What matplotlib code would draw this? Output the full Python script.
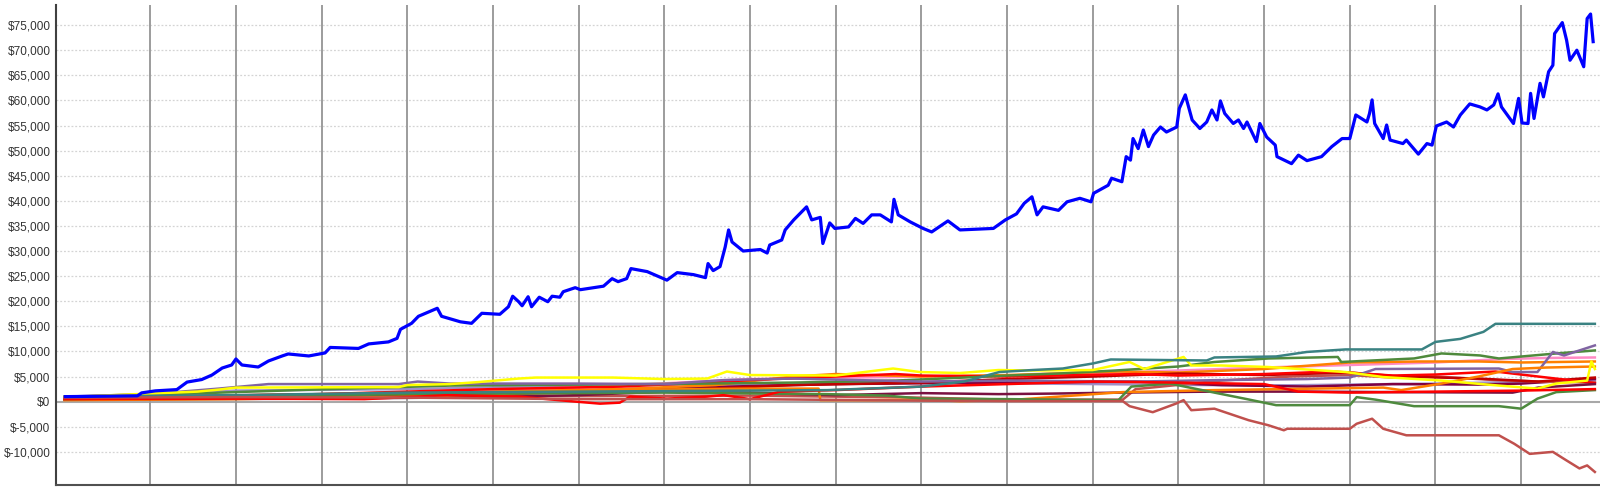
import matplotlib
matplotlib.use("Agg")
import matplotlib.pyplot as plt
from matplotlib.ticker import FuncFormatter, FixedLocator

# ---------------- data (x = decimal year, y = thousands of dollars) ----------------
blue_x = [2006.01, 2006.85, 2006.90, 2007.06, 2007.31, 2007.43, 2007.60, 2007.72, 2007.84, 2007.95,
          2008.00, 2008.07, 2008.26, 2008.38, 2008.54, 2008.61, 2008.85, 2009.04, 2009.10, 2009.43,
          2009.55, 2009.78, 2009.88, 2009.92, 2010.05, 2010.13, 2010.35, 2010.40, 2010.56, 2010.62,
          2010.75, 2010.87, 2011.08, 2011.18, 2011.23, 2011.30, 2011.34, 2011.41, 2011.45, 2011.54,
          2011.64, 2011.69, 2011.78, 2011.82, 2011.96, 2012.02, 2012.29, 2012.39, 2012.46, 2012.56,
          2012.61, 2012.80, 2013.03, 2013.15, 2013.34, 2013.48, 2013.51, 2013.57, 2013.65, 2013.71,
          2013.75, 2013.79, 2013.92, 2014.12, 2014.20, 2014.23, 2014.37, 2014.41, 2014.51, 2014.66,
          2014.72, 2014.82, 2014.85, 2014.93, 2014.99, 2015.15, 2015.23, 2015.32, 2015.42, 2015.52,
          2015.65, 2015.68, 2015.73, 2015.87, 2016.02, 2016.12, 2016.31, 2016.45, 2016.84, 2016.98,
          2017.11, 2017.20, 2017.29, 2017.35, 2017.42, 2017.60, 2017.70, 2017.85, 2017.98, 2018.01,
          2018.18, 2018.22, 2018.34, 2018.39, 2018.44, 2018.47, 2018.53, 2018.59, 2018.65, 2018.71,
          2018.79, 2018.86, 2018.98, 2019.01, 2019.08, 2019.16, 2019.25, 2019.33, 2019.39, 2019.45,
          2019.49, 2019.54, 2019.64, 2019.70, 2019.76, 2019.80, 2019.91, 2019.95, 2020.03, 2020.13,
          2020.15, 2020.32, 2020.40, 2020.50, 2020.67, 2020.79, 2020.91, 2021.00, 2021.07, 2021.20,
          2021.23, 2021.26, 2021.29, 2021.39, 2021.43, 2021.47, 2021.62, 2021.66, 2021.80, 2021.90,
          2021.96, 2022.01, 2022.13, 2022.21, 2022.29, 2022.40, 2022.52, 2022.60, 2022.68, 2022.73,
          2022.77, 2022.91, 2022.97, 2023.01, 2023.08, 2023.11, 2023.15, 2023.22, 2023.26, 2023.32,
          2023.37, 2023.39, 2023.48, 2023.53, 2023.57, 2023.65, 2023.73, 2023.77, 2023.81, 2023.84]
blue_y = [1.0, 1.16, 1.75, 2.15, 2.4, 3.9, 4.4, 5.3, 6.7, 7.3,
          8.5, 7.3, 6.9, 8.1, 9.1, 9.5, 9.1, 9.7, 10.8, 10.6,
          11.5, 11.9, 12.6, 14.4, 15.6, 17.0, 18.6, 17.0, 16.2, 15.9,
          15.6, 17.6, 17.4, 18.9, 21.0, 19.9, 19.1, 20.9, 18.9, 20.8,
          19.9, 21.0, 20.8, 21.9, 22.7, 22.3, 23.0, 24.5, 23.9, 24.5,
          26.5, 25.9, 24.2, 25.7, 25.3, 24.7, 27.5, 26.1, 26.9, 30.8,
          34.2, 31.8, 30.0, 30.3, 29.6, 31.2, 32.2, 34.2, 36.2, 38.8,
          36.2, 36.7, 31.5, 35.6, 34.5, 34.8, 36.5, 35.5, 37.2, 37.2,
          35.8, 40.3, 37.2, 35.8, 34.5, 33.8, 36.0, 34.2, 34.5, 36.2,
          37.4, 39.5, 40.8, 37.2, 38.8, 38.1, 39.8, 40.5, 39.8, 41.5,
          43.1, 44.5, 43.8, 48.8, 48.1, 52.4, 50.4, 54.1, 50.8, 53.1,
          54.7, 53.7, 54.7, 58.4, 61.1, 56.1, 54.4, 55.7, 58.1, 56.1,
          59.9, 57.4, 55.4, 56.1, 54.4, 55.7, 51.8, 55.4, 52.7, 51.1,
          48.8, 47.4, 49.1, 48.0, 48.8, 50.8, 52.4, 52.4, 57.1, 55.7,
          57.4, 60.1, 55.4, 52.4, 55.1, 52.1, 51.4, 52.1, 49.3, 51.4,
          51.1, 54.9, 55.7, 54.7, 57.1, 59.3, 58.7, 58.1, 59.1, 61.3,
          58.7, 55.4, 60.4, 55.5, 55.4, 61.4, 56.4, 63.4, 60.7, 65.7,
          67.0, 73.3, 75.5, 72.0, 68.0, 70.0, 66.7, 76.3, 77.2, 71.7]

teal_x = [2006.0, 2008.0, 2010.0, 2012.0, 2014.9, 2016.0, 2016.5, 2016.91, 2017.3, 2017.65, 2018.0,
          2018.21, 2019.33, 2019.42, 2020.14, 2020.5, 2020.95, 2021.84, 2022.0, 2022.29, 2022.56,
          2022.7, 2023.86]
teal_y = [1.0, 1.3, 1.8, 2.0, 2.3, 3.0, 4.0, 5.9, 6.3, 6.6, 7.6,
          8.4, 8.2, 8.8, 9.0, 9.9, 10.4, 10.4, 11.9, 12.5, 13.9,
          15.5, 15.5]

green1_x = [2006.0, 2008.9, 2009.9, 2010.5, 2012.0, 2013.5, 2014.5, 2015.7, 2016.5, 2017.0, 2017.6,
            2018.26, 2019.0, 2019.42, 2020.05, 2020.86, 2020.9, 2021.75, 2022.07, 2022.52, 2022.74,
            2023.41, 2023.86]
green1_y = [0.8, 2.4, 2.9, 3.2, 3.4, 3.6, 3.8, 4.2, 4.8, 5.2, 5.6,
            6.2, 7.0, 7.9, 8.6, 8.9, 7.9, 8.6, 9.6, 9.2, 8.6,
            9.6, 10.2]

green2_x = [2006.0, 2007.5, 2010.0, 2013.0, 2014.9, 2015.6, 2016.0, 2017.0, 2018.3, 2018.45, 2018.9,
            2019.42, 2019.8, 2020.14, 2021.0, 2021.08, 2021.3, 2021.75, 2022.74, 2023.0, 2023.19,
            2023.41, 2023.86]
green2_y = [0.5, 0.8, 1.5, 1.8, 1.5, 1.2, 0.6, 0.5, 0.3, 3.0, 3.6,
            1.8, 0.5, -0.7, -0.7, 0.9, 0.4, -0.9, -0.9, -1.4, 0.6,
            1.9, 2.3]

brown1_x = [2006.0, 2008.0, 2010.0, 2012.0, 2014.0, 2016.0, 2017.0, 2018.35, 2018.43, 2018.7, 2018.97,
            2019.06, 2019.15, 2019.42, 2019.82, 2020.05, 2020.23, 2020.27, 2021.0, 2021.08, 2021.26,
            2021.39, 2021.66, 2022.74, 2022.92, 2023.1, 2023.37, 2023.5, 2023.68, 2023.77, 2023.86]
brown1_y = [0.8, 0.9, 0.8, 0.5, 0.5, 0.2, 0.1, 0.1, -0.9, -2.1, -0.4,
            0.3, -1.7, -1.4, -3.7, -4.7, -5.7, -5.4, -5.4, -4.4, -3.4,
            -5.4, -6.7, -6.7, -8.4, -10.4, -10.0, -11.4, -13.3, -12.7, -14.0]

brown2_x = [2006.0, 2010.0, 2014.0, 2016.0, 2017.0, 2018.35, 2018.5, 2018.8, 2019.5, 2020.3, 2021.0,
            2021.5, 2022.0, 2022.7, 2023.2, 2023.86]
brown2_y = [0.6, 1.0, 1.2, 0.8, 0.4, 0.4, 2.5, 3.0, 4.2, 5.0, 5.3,
            4.8, 5.0, 4.3, 4.0, 3.8]

purple_x = [2006.0, 2007.0, 2007.8, 2008.38, 2009.9, 2010.12, 2010.5, 2012.0, 2013.0, 2013.7, 2014.5,
            2016.0, 2017.0, 2018.5, 2019.5, 2020.5, 2021.0, 2021.3, 2022.74, 2022.9, 2023.19,
            2023.37, 2023.5, 2023.86]
purple_y = [1.0, 1.5, 2.6, 3.5, 3.5, 4.0, 3.6, 3.6, 3.5, 4.3, 4.6,
            4.0, 4.2, 4.0, 4.3, 4.5, 4.8, 6.5, 6.6, 5.9, 5.9,
            9.9, 9.2, 11.2]

lavender_x = [2006.0, 2008.0, 2010.0, 2012.0, 2014.0, 2016.0, 2018.0, 2020.0, 2022.0, 2023.86]
lavender_y = [0.9, 2.2, 2.5, 3.2, 3.5, 3.8, 3.5, 3.2, 3.6, 4.2]

yellow_x = [2006.0, 2007.55, 2007.8, 2008.0, 2009.9, 2010.0, 2010.5, 2010.83, 2011.3, 2011.5, 2012.4,
            2013.0, 2013.5, 2013.73, 2014.0, 2015.0, 2015.67, 2015.98, 2016.45, 2016.9, 2017.3,
            2018.0, 2018.43, 2018.6, 2019.06, 2019.15, 2019.5, 2020.05, 2020.95, 2021.39, 2022.07,
            2022.74, 2023.19, 2023.41, 2023.77, 2023.82, 2023.86]
yellow_y = [0.9, 2.0, 2.4, 2.8, 2.9, 3.3, 3.5, 3.9, 4.6, 4.8, 4.8,
            4.5, 4.6, 6.0, 5.3, 5.2, 6.6, 5.9, 5.7, 6.3, 6.2,
            6.3, 7.9, 6.5, 8.9, 7.2, 7.2, 6.9, 5.9, 4.9, 4.2,
            3.2, 2.6, 3.6, 4.2, 8.0, 6.5]

red1_x = [2006.0, 2008.0, 2009.5, 2010.47, 2011.3, 2011.97, 2012.25, 2012.48, 2012.6, 2013.03, 2013.5,
          2013.69, 2014.0, 2014.35, 2015.0, 2016.0, 2017.0, 2018.0, 2019.0, 2020.0, 2020.4,
          2021.0, 2022.0, 2023.0, 2023.86]
red1_y = [0.5, 0.6, 0.5, 1.3, 1.0, 0.0, -0.4, -0.2, 1.0, 0.6, 1.0,
          1.3, 0.5, 2.0, 2.3, 3.0, 3.5, 4.0, 3.8, 3.5, 2.0,
          1.8, 2.0, 2.2, 2.5]

red2_x = [2006.0, 2009.0, 2011.0, 2012.5, 2013.7, 2014.0, 2015.7, 2016.0, 2017.0, 2018.5, 2019.0,
          2020.0, 2020.8, 2021.5, 2022.0, 2022.7, 2023.2, 2023.86]
red2_y = [0.8, 1.5, 2.5, 3.0, 4.0, 4.3, 5.5, 5.2, 5.0, 5.5, 5.2,
          5.5, 6.0, 5.2, 5.4, 6.0, 5.0, 3.7]

orange1_x = [2006.0, 2008.0, 2010.0, 2011.0, 2012.25, 2014.0, 2014.8, 2014.82, 2015.44, 2015.98, 2016.45,
             2017.03, 2017.6, 2018.35, 2019.42, 2021.39, 2021.6, 2022.07, 2022.5, 2022.9, 2023.3, 2023.86]
orange1_y = [0.3, 0.5, 1.0, 1.5, 2.3, 2.6, 2.6, 0.3, 0.3, 0.4, 0.1,
             0.3, 1.0, 1.9, 2.3, 2.8, 2.3, 3.6, 5.0, 6.5, 6.8, 7.0]

orange2_x = [2006.0, 2009.0, 2011.0, 2012.5, 2013.6, 2014.5, 2015.0, 2016.0, 2017.0, 2018.3, 2019.0,
             2020.0, 2021.0, 2021.8, 2022.5, 2023.0, 2023.86]
orange2_y = [0.7, 1.5, 2.0, 2.5, 3.3, 5.0, 5.5, 5.0, 5.3, 6.0, 5.8,
             6.5, 7.8, 8.0, 8.0, 7.8, 8.0]

pink_x = [2006.0, 2009.0, 2011.0, 2012.0, 2014.0, 2016.0, 2017.0, 2018.0, 2019.0, 2020.0, 2021.0,
          2022.0, 2022.8, 2023.3, 2023.86]
pink_y = [0.7, 1.5, 2.2, 2.8, 4.5, 5.0, 5.2, 5.6, 6.2, 6.8, 7.3,
          7.8, 8.5, 8.7, 8.8]

maroon1_x = [2006.0, 2009.0, 2011.0, 2012.0, 2013.0, 2014.0, 2015.0, 2016.0, 2016.9, 2017.5, 2018.3,
             2019.4, 2020.5, 2021.5, 2022.9, 2023.2, 2023.86]
maroon1_y = [0.4, 0.6, 0.9, 1.3, 2.0, 1.8, 1.3, 1.7, 1.5, 1.6, 1.8,
             2.0, 2.0, 1.9, 1.8, 2.8, 3.5]

maroon2_x = [2006.0, 2009.0, 2011.0, 2013.0, 2015.0, 2017.0, 2018.5, 2019.5, 2020.5, 2021.5, 2022.5,
             2023.0, 2023.86]
maroon2_y = [0.6, 1.0, 1.7, 2.7, 3.5, 3.8, 4.0, 3.3, 3.0, 3.5, 3.4,
             3.6, 4.5]

darkred_x = [2006.0, 2008.5, 2010.0, 2012.0, 2013.0, 2014.5, 2016.0, 2017.0, 2018.0, 2019.0, 2020.0,
             2021.0, 2021.6, 2022.5, 2023.2, 2023.86]
darkred_y = [0.5, 1.0, 1.2, 1.8, 2.2, 3.3, 3.8, 4.5, 5.0, 5.6, 5.3,
             5.8, 5.0, 4.6, 4.0, 4.8]

year_lines = list(range(2007, 2024))
y_ticks = list(range(-10000, 75001, 5000))

# ---------------- figure ----------------
plt.rcParams['font.family'] = ['Liberation Sans', 'DejaVu Sans']
fig = plt.figure(figsize=(16, 4.87), dpi=100)
ax = fig.add_axes([56 / 1600, 2 / 487, 1 - 56 / 1600, (485 - 5) / 487])

ax.set_xlim(2005.90, 2023.92)
ax.set_ylim(-16600, 79000)

# grid
for yv in y_ticks:
    if yv == 0:
        ax.axhline(0, color='#a8a8a8', lw=1.5, zorder=1)
    else:
        ax.axhline(yv, color='#d4d4d4', lw=0.9, ls=(0, (1.5, 1.5)), zorder=1)
for xv in year_lines:
    ax.axvline(xv, color='#9c9c9c', lw=1.4, zorder=1)

secondary = [
    (lavender_x, lavender_y, '#a090c8'),
    (maroon2_x, maroon2_y, '#800040'),
    (brown2_x, brown2_y, '#c0504d'),
    (pink_x, pink_y, '#ff8ac4'),
    (orange2_x, orange2_y, '#ff8000'),
    (darkred_x, darkred_y, '#c00000'),
    (red2_x, red2_y, '#ff0000'),
    (green1_x, green1_y, '#4f8a3c'),
    (purple_x, purple_y, '#8064a2'),
    (maroon1_x, maroon1_y, '#7a1040'),
    (orange1_x, orange1_y, '#ff7f00'),
    (green2_x, green2_y, '#4e8a3e'),
    (yellow_x, yellow_y, '#ffff00'),
    (red1_x, red1_y, '#ff0000'),
    (teal_x, teal_y, '#3a8282'),
    (brown1_x, brown1_y, '#c0504d'),
]
for xs, ys, c in secondary:
    ax.plot(xs, [v * 1000 for v in ys], color=c, lw=1.8, zorder=3)

ax.plot(blue_x, [v * 1000 for v in blue_y], color='#0000ff', lw=2.3, zorder=4)

# axes styling
ax.yaxis.set_major_locator(FixedLocator(y_ticks))
ax.yaxis.set_major_formatter(FuncFormatter(lambda v, p: ('$-' if v < 0 else '$') + f"{abs(v):,.0f}"))
ax.tick_params(axis='y', length=0, pad=4, labelsize=8.5, labelcolor='#333333')
ax.set_xticks([])
for s in ['top', 'right']:
    ax.spines[s].set_visible(False)
ax.spines['left'].set_color('#404040')
ax.spines['left'].set_linewidth(1.5)
ax.spines['bottom'].set_color('#505050')
ax.spines['bottom'].set_linewidth(1.5)

fig.savefig('out.png', dpi=100, facecolor='white')
